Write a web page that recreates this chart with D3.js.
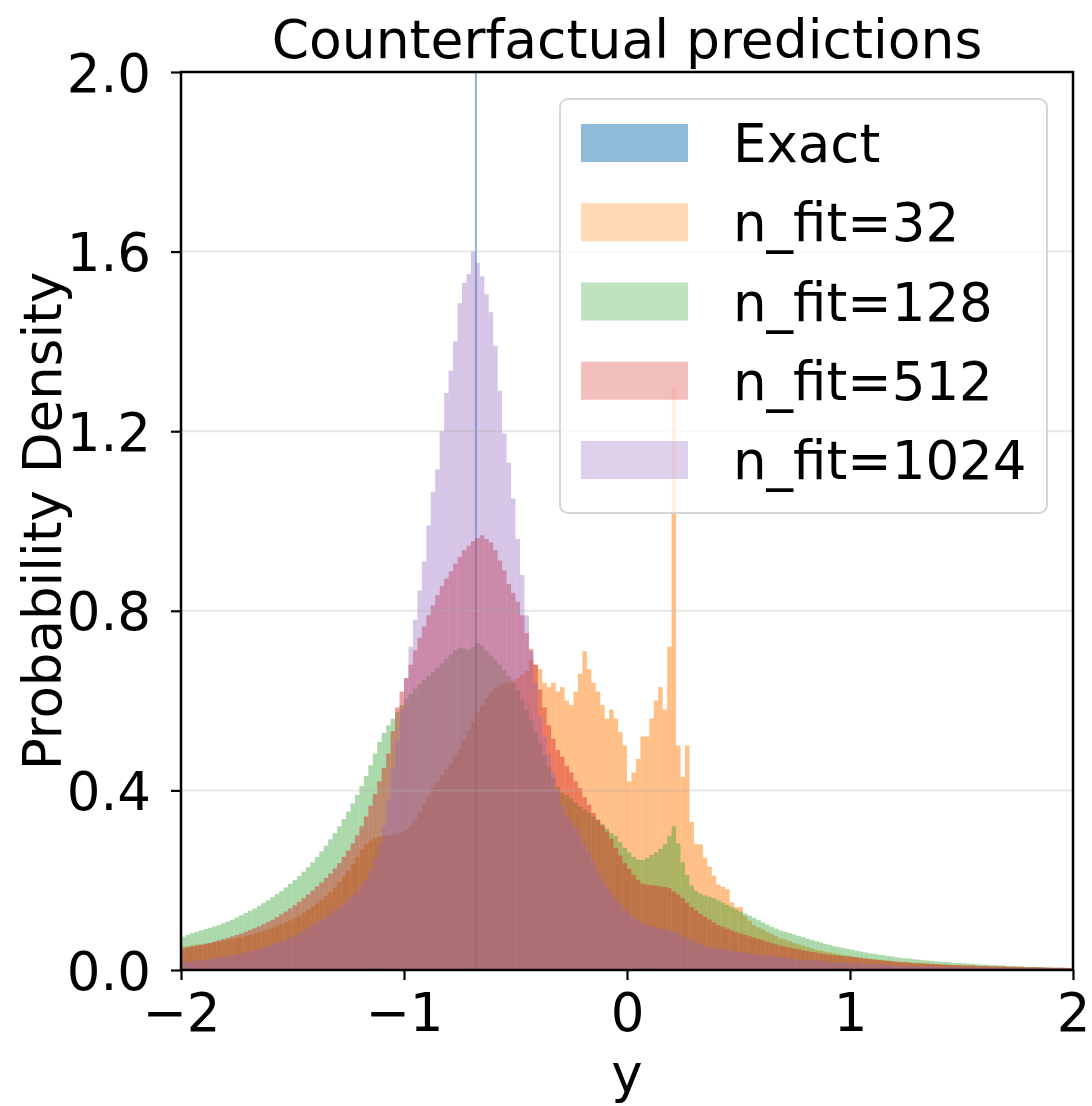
<!DOCTYPE html>
<html>
<head>
<meta charset="utf-8">
<script src="https://cdn.jsdelivr.net/npm/d3@7"></script>
<style>
  body { margin: 0; background: #fff; }
  svg text { font-family: "DejaVu Sans", sans-serif; fill: #000; }
</style>
</head>
<body>
<div id="chart"></div>
<script>
// histogram densities, bins of width 0.02 from -2 to 2
const binEdges = d3.range(0, 201).map(i => -2 + i * 0.02);

const density32 = [
  0.052, 0.053, 0.055, 0.056, 0.057, 0.059, 0.060, 0.062, 0.063, 0.065,
  0.067, 0.069, 0.071, 0.073, 0.076, 0.078, 0.081, 0.084, 0.087, 0.090,
  0.094, 0.098, 0.102, 0.106, 0.110, 0.116, 0.121, 0.127, 0.134, 0.141,
  0.148, 0.156, 0.165, 0.174, 0.184, 0.196, 0.208, 0.221, 0.236, 0.252,
  0.268, 0.280, 0.288, 0.293, 0.297, 0.299, 0.300, 0.301, 0.303, 0.306,
  0.312, 0.322, 0.335, 0.352, 0.370, 0.388, 0.405, 0.420, 0.433, 0.447,
  0.460, 0.475, 0.492, 0.512, 0.533, 0.553, 0.572, 0.590, 0.605, 0.618,
  0.628, 0.634, 0.638, 0.641, 0.645, 0.650, 0.657, 0.666, 0.690, 0.680,
  0.670, 0.640, 0.630, 0.640, 0.620, 0.630, 0.600, 0.590, 0.620, 0.660,
  0.710, 0.670, 0.640, 0.620, 0.590, 0.560, 0.580, 0.560, 0.530, 0.500,
  0.420, 0.440, 0.470, 0.520, 0.520, 0.560, 0.600, 0.630, 0.580, 0.720,
  1.300, 0.500, 0.430, 0.500, 0.330, 0.280, 0.280, 0.250, 0.230, 0.210,
  0.190, 0.185, 0.180, 0.150, 0.140, 0.140, 0.120, 0.110, 0.100, 0.095,
  0.090, 0.085, 0.080, 0.075, 0.070, 0.068, 0.064, 0.060, 0.057, 0.054,
  0.051, 0.048, 0.045, 0.043, 0.041, 0.039, 0.037, 0.035, 0.033, 0.032,
  0.030, 0.029, 0.027, 0.026, 0.025, 0.024, 0.023, 0.022, 0.021, 0.020,
  0.019, 0.018, 0.018, 0.017, 0.016, 0.016, 0.015, 0.014, 0.014, 0.013,
  0.013, 0.012, 0.012, 0.011, 0.011, 0.010, 0.010, 0.010, 0.009, 0.009,
  0.009, 0.008, 0.008, 0.008, 0.007, 0.007, 0.007, 0.007, 0.006, 0.006,
  0.006, 0.006, 0.006, 0.005, 0.005, 0.005, 0.005, 0.005, 0.004, 0.004
];

const density128 = [
  0.074, 0.078, 0.082, 0.085, 0.088, 0.091, 0.094, 0.097, 0.100, 0.104,
  0.108, 0.112, 0.117, 0.122, 0.127, 0.132, 0.137, 0.143, 0.149, 0.155,
  0.162, 0.169, 0.176, 0.184, 0.192, 0.200, 0.209, 0.219, 0.229, 0.240,
  0.252, 0.264, 0.277, 0.291, 0.305, 0.320, 0.336, 0.353, 0.371, 0.390,
  0.410, 0.432, 0.456, 0.482, 0.508, 0.528, 0.545, 0.560, 0.575, 0.590,
  0.603, 0.615, 0.626, 0.636, 0.646, 0.655, 0.664, 0.673, 0.683, 0.693,
  0.703, 0.712, 0.718, 0.716, 0.712, 0.720, 0.728, 0.722, 0.712, 0.700,
  0.690, 0.680, 0.668, 0.655, 0.640, 0.622, 0.602, 0.580, 0.556, 0.530,
  0.505, 0.478, 0.452, 0.428, 0.408, 0.395, 0.390, 0.382, 0.372, 0.364,
  0.357, 0.350, 0.342, 0.334, 0.325, 0.315, 0.305, 0.298, 0.285, 0.272,
  0.262, 0.252, 0.246, 0.245, 0.250, 0.256, 0.262, 0.270, 0.280, 0.298,
  0.320, 0.282, 0.240, 0.212, 0.188, 0.176, 0.170, 0.166, 0.163, 0.160,
  0.155, 0.150, 0.145, 0.140, 0.135, 0.130, 0.126, 0.121, 0.116, 0.111,
  0.106, 0.101, 0.096, 0.092, 0.088, 0.085, 0.082, 0.079, 0.076, 0.073,
  0.070, 0.067, 0.064, 0.061, 0.058, 0.056, 0.053, 0.051, 0.049, 0.047,
  0.045, 0.043, 0.041, 0.039, 0.037, 0.036, 0.034, 0.033, 0.031, 0.030,
  0.028, 0.027, 0.026, 0.025, 0.024, 0.023, 0.022, 0.021, 0.020, 0.019,
  0.018, 0.018, 0.017, 0.016, 0.016, 0.015, 0.014, 0.014, 0.013, 0.012,
  0.012, 0.011, 0.011, 0.010, 0.010, 0.009, 0.009, 0.008, 0.008, 0.007,
  0.007, 0.007, 0.006, 0.006, 0.006, 0.005, 0.005, 0.005, 0.004, 0.004
];

const density512 = [
  0.048, 0.050, 0.052, 0.054, 0.056, 0.058, 0.060, 0.063, 0.066, 0.069,
  0.072, 0.075, 0.078, 0.081, 0.085, 0.089, 0.093, 0.097, 0.102, 0.107,
  0.112, 0.118, 0.124, 0.130, 0.137, 0.144, 0.152, 0.160, 0.168, 0.177,
  0.186, 0.195, 0.205, 0.215, 0.226, 0.238, 0.252, 0.266, 0.282, 0.300,
  0.320, 0.342, 0.366, 0.392, 0.420, 0.450, 0.482, 0.532, 0.585, 0.620,
  0.650, 0.680, 0.712, 0.740, 0.765, 0.790, 0.812, 0.835, 0.855, 0.872,
  0.888, 0.905, 0.920, 0.935, 0.945, 0.955, 0.962, 0.968, 0.960, 0.952,
  0.935, 0.912, 0.890, 0.860, 0.840, 0.820, 0.790, 0.750, 0.715, 0.680,
  0.625, 0.585, 0.545, 0.515, 0.490, 0.475, 0.455, 0.440, 0.420, 0.405,
  0.385, 0.368, 0.350, 0.335, 0.322, 0.308, 0.292, 0.272, 0.255, 0.238,
  0.225, 0.212, 0.200, 0.192, 0.190, 0.189, 0.188, 0.186, 0.185, 0.182,
  0.175, 0.168, 0.160, 0.150, 0.140, 0.132, 0.125, 0.118, 0.112, 0.106,
  0.100, 0.096, 0.092, 0.088, 0.084, 0.081, 0.078, 0.075, 0.072, 0.069,
  0.066, 0.063, 0.060, 0.057, 0.054, 0.052, 0.050, 0.048, 0.046, 0.044,
  0.042, 0.040, 0.039, 0.037, 0.036, 0.034, 0.033, 0.032, 0.031, 0.030,
  0.029, 0.028, 0.027, 0.025, 0.024, 0.023, 0.022, 0.021, 0.020, 0.019,
  0.018, 0.017, 0.017, 0.016, 0.015, 0.015, 0.014, 0.014, 0.013, 0.013,
  0.012, 0.012, 0.011, 0.011, 0.011, 0.010, 0.010, 0.010, 0.009, 0.009,
  0.009, 0.008, 0.008, 0.008, 0.008, 0.007, 0.007, 0.007, 0.007, 0.006,
  0.006, 0.006, 0.006, 0.006, 0.005, 0.005, 0.005, 0.005, 0.005, 0.004
];

const density1024 = [
  0.018, 0.019, 0.020, 0.021, 0.022, 0.024, 0.025, 0.026, 0.028, 0.029,
  0.031, 0.033, 0.035, 0.037, 0.039, 0.041, 0.044, 0.047, 0.050, 0.053,
  0.056, 0.060, 0.064, 0.068, 0.072, 0.077, 0.082, 0.088, 0.094, 0.100,
  0.106, 0.112, 0.119, 0.126, 0.133, 0.140, 0.148, 0.157, 0.166, 0.176,
  0.188, 0.202, 0.222, 0.250, 0.280, 0.320, 0.380, 0.450, 0.510, 0.580,
  0.650, 0.720, 0.780, 0.845, 0.910, 0.990, 1.065, 1.115, 1.200, 1.285,
  1.335, 1.400, 1.485, 1.530, 1.550, 1.600, 1.575, 1.545, 1.505, 1.465,
  1.390, 1.290, 1.195, 1.130, 1.050, 0.960, 0.880, 0.790, 0.710, 0.640,
  0.565, 0.520, 0.480, 0.440, 0.400, 0.365, 0.345, 0.330, 0.315, 0.300,
  0.282, 0.262, 0.242, 0.222, 0.203, 0.186, 0.171, 0.159, 0.147, 0.135,
  0.126, 0.118, 0.110, 0.103, 0.100, 0.098, 0.095, 0.093, 0.091, 0.088,
  0.085, 0.082, 0.076, 0.071, 0.066, 0.061, 0.057, 0.054, 0.051, 0.049,
  0.047, 0.046, 0.045, 0.043, 0.041, 0.040, 0.039, 0.037, 0.036, 0.035,
  0.034, 0.032, 0.031, 0.030, 0.028, 0.027, 0.026, 0.025, 0.024, 0.023,
  0.022, 0.021, 0.021, 0.020, 0.019, 0.018, 0.018, 0.017, 0.016, 0.016,
  0.015, 0.015, 0.014, 0.014, 0.013, 0.013, 0.012, 0.012, 0.011, 0.011,
  0.010, 0.010, 0.010, 0.009, 0.009, 0.009, 0.008, 0.008, 0.008, 0.008,
  0.007, 0.007, 0.007, 0.007, 0.006, 0.006, 0.006, 0.006, 0.006, 0.005,
  0.005, 0.005, 0.005, 0.005, 0.005, 0.004, 0.004, 0.004, 0.004, 0.004,
  0.004, 0.004, 0.003, 0.003, 0.003, 0.003, 0.003, 0.003, 0.003, 0.003
];

// the exact answer is a point mass, one very tall narrow bin
const exactEdges = [-0.682, -0.673];
const exactDensity = [120];

const seriesNames = ["Exact", "n_fit=32", "n_fit=128", "n_fit=512", "n_fit=1024"];
const seriesColors = ["#1f77b4", "#ff7f0e", "#2ca02c", "#d62728", "#9467bd"];
// legend patches are lighter than the packed bars of the histogram
const legendAlpha = [0.5, 0.3, 0.3, 0.3, 0.3];
const barAlpha = [0.55, 0.5, 0.4, 0.45, 0.38];

const xTicks = [-2, -1, 0, 1, 2];
const yTicks = [0, 0.4, 0.8, 1.2, 1.6, 2.0];

function toBins(edges, values) {
  return values.map((v, i) => ({ x0: edges[i], x1: edges[i + 1], v: v }));
}

const series = [
  toBins(exactEdges, exactDensity),
  toBins(binEdges, density32),
  toBins(binEdges, density128),
  toBins(binEdges, density512),
  toBins(binEdges, density1024)
];

function renderChart() {
  const width = 1092;
  const height = 1106;
  const margin = { top: 72, right: 19, bottom: 136, left: 181 };
  const innerW = width - margin.left - margin.right;
  const innerH = height - margin.top - margin.bottom;
  const fontSize = 53;

  const svg = d3.select("#chart")
    .append("svg")
    .attr("width", width)
    .attr("height", height);

  const x = d3.scaleLinear().domain([-2, 2]).range([0, innerW]);
  const y = d3.scaleLinear().domain([0, 2]).range([innerH, 0]);

  svg.append("defs").append("clipPath")
    .attr("id", "plot-clip")
    .append("rect")
    .attr("width", innerW)
    .attr("height", innerH);

  const g = svg.append("g")
    .attr("transform", `translate(${margin.left},${margin.top})`);

  // histogram bars, drawn in legend order
  const bars = g.append("g").attr("clip-path", "url(#plot-clip)");
  series.forEach((bins, k) => {
    bars.append("g")
      .selectAll("rect")
      .data(bins)
      .enter()
      .append("rect")
      .attr("x", d => x(d.x0))
      .attr("width", d => x(d.x1) - x(d.x0))
      .attr("y", d => y(d.v))
      .attr("height", d => innerH - y(d.v))
      .attr("fill", seriesColors[k])
      .attr("fill-opacity", barAlpha[k]);
  });

  // horizontal grid on top of the bars, like matplotlib
  g.append("g")
    .selectAll("line")
    .data(yTicks.filter(t => t > 0 && t < 2))
    .enter()
    .append("line")
    .attr("x1", 0)
    .attr("x2", innerW)
    .attr("y1", d => y(d))
    .attr("y2", d => y(d))
    .attr("stroke", "#b0b0b0")
    .attr("stroke-opacity", 0.3)
    .attr("stroke-width", 2);

  // axes
  const xAxis = g.append("g")
    .attr("transform", `translate(0,${innerH})`)
    .call(d3.axisBottom(x).tickValues(xTicks).tickSize(10).tickPadding(13)
      .tickFormat(d => d < 0 ? "\u2212" + Math.abs(d) : String(d)));

  const yAxis = g.append("g")
    .call(d3.axisLeft(y).tickValues(yTicks).tickSize(10).tickPadding(20)
      .tickFormat(d3.format(".1f")));

  [xAxis, yAxis].forEach(a => {
    a.select(".domain").remove();
    a.selectAll(".tick line").attr("stroke", "#000").attr("stroke-width", 2.2);
    a.selectAll(".tick text")
      .style("font-family", "DejaVu Sans")
      .style("font-size", fontSize + "px")
      .attr("fill", "#000");
  });
  yAxis.selectAll(".tick text").attr("dy", "0.36em");

  // frame
  g.append("rect")
    .attr("width", innerW)
    .attr("height", innerH)
    .attr("fill", "none")
    .attr("stroke", "#000")
    .attr("stroke-width", 2.5);

  // title and axis labels
  svg.append("text")
    .attr("x", margin.left + innerW / 2)
    .attr("y", 58)
    .attr("text-anchor", "middle")
    .style("font-size", "53.5px")
    .text("Counterfactual predictions");

  svg.append("text")
    .attr("x", margin.left + innerW / 2)
    .attr("y", 1092)
    .attr("text-anchor", "middle")
    .style("font-size", fontSize + "px")
    .text("y");

  svg.append("text")
    .attr("transform", `translate(61,${margin.top + innerH / 2}) rotate(-90)`)
    .attr("text-anchor", "middle")
    .style("font-size", fontSize + "px")
    .text("Probability Density");

  // legend
  const legend = svg.append("g");
  legend.append("rect")
    .attr("x", 560)
    .attr("y", 99)
    .attr("width", 487)
    .attr("height", 414)
    .attr("rx", 8)
    .attr("fill", "#fff")
    .attr("fill-opacity", 0.8)
    .attr("stroke", "#cccccc")
    .attr("stroke-opacity", 0.8)
    .attr("stroke-width", 2);

  const rowStep = 79.25;
  const item = legend.selectAll(".item")
    .data(seriesNames)
    .enter()
    .append("g")
    .attr("transform", (d, i) => `translate(581,${124 + i * rowStep})`);

  item.append("rect")
    .attr("width", 107)
    .attr("height", 38)
    .attr("fill", (d, i) => seriesColors[i])
    .attr("fill-opacity", (d, i) => legendAlpha[i]);

  item.append("text")
    .attr("x", 152)
    .attr("y", 38)
    .style("font-size", fontSize + "px")
    .text(d => d);
}

renderChart();
</script>
</body>
</html>
